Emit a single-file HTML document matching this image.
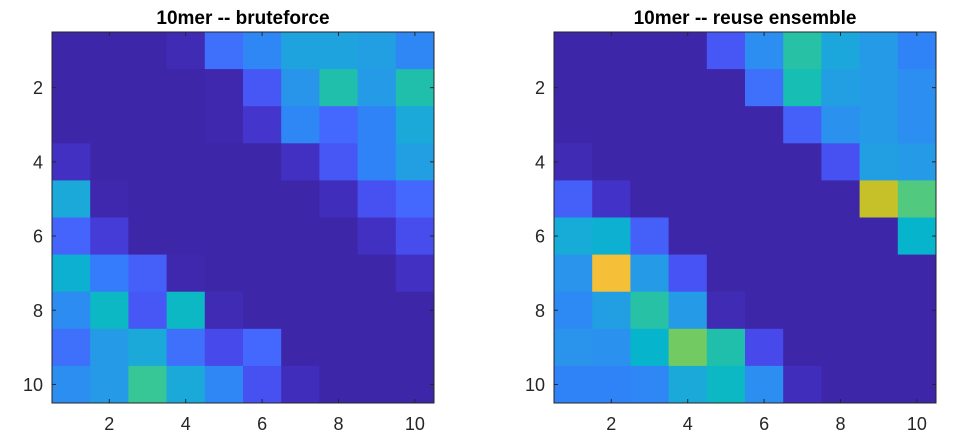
<!DOCTYPE html>
<html><head><meta charset="utf-8"><style>
html,body{margin:0;padding:0;background:#fff;}
svg{display:block;font-family:"Liberation Sans",Arial,sans-serif;}
</style></head><body>
<svg id="fig" width="956" height="440" viewBox="0 0 956 440" xmlns="http://www.w3.org/2000/svg"></svg>
<script>
const ticks = [2,4,6,8,10];
const titles = ["10mer -- bruteforce","10mer -- reuse ensemble"];
const bruteforce = [
 [0,0,0,0.02,0.22,0.3,0.42,0.42,0.4,0.3],
 [0,0,0,0,0.01,0.16,0.36,0.58,0.38,0.58],
 [0,0,0,0,0.01,0.06,0.3,0.2,0.28,0.45],
 [0.04,0,0,0,0,0,0.04,0.16,0.28,0.4],
 [0.45,0.01,0,0,0,0,0,0.03,0.14,0.2],
 [0.19,0.08,0,0,0,0,0,0,0.04,0.13],
 [0.48,0.25,0.18,0.01,0,0,0,0,0,0.04],
 [0.32,0.52,0.16,0.52,0.02,0,0,0,0,0],
 [0.22,0.38,0.45,0.22,0.12,0.2,0,0,0,0],
 [0.33,0.38,0.64,0.45,0.3,0.14,0.03,0,0,0]
];
const reuse = [
 [0,0,0,0,0.16,0.33,0.6,0.44,0.38,0.28],
 [0,0,0,0,0,0.22,0.56,0.4,0.38,0.33],
 [0,0,0,0,0,0,0.18,0.34,0.38,0.33],
 [0.02,0,0,0,0,0,0,0.14,0.4,0.38],
 [0.18,0.05,0,0,0,0,0,0,0.85,0.68],
 [0.46,0.48,0.18,0,0,0,0,0,0,0.5],
 [0.35,0.92,0.38,0.15,0,0,0,0,0,0],
 [0.31,0.4,0.6,0.38,0.02,0,0,0,0,0],
 [0.35,0.34,0.5,0.72,0.58,0.12,0,0,0,0],
 [0.28,0.28,0.3,0.45,0.52,0.33,0.03,0,0,0]
];
const stops=[[0,"3e26a8"],[0.05,"4332c8"],[0.1,"4743e3"],[0.15,"4753f4"],[0.2,"4468fd"],[0.25,"347cfb"],[0.3,"2e87f5"],[0.35,"2a93ec"],[0.4,"219fe2"],[0.45,"1ba9da"],[0.5,"06b4cc"],[0.55,"13bdb6"],[0.6,"27c1a6"],[0.65,"3bc792"],[0.7,"5fcb70"],[0.75,"8ccb4e"],[0.8,"b0c43d"],[0.85,"c6c029"],[0.9,"f0b93d"],[0.95,"fcc931"],[1,"f9fb14"]];
function cmap(v){v=Math.max(0,Math.min(1,v));for(let i=1;i<stops.length;i++){if(v<=stops[i][0]){const a=stops[i-1],b=stops[i];const t=(v-a[0])/(b[0]-a[0]);const ca=parseInt(a[1],16),cb=parseInt(b[1],16);const ch=s=>Math.round(((ca>>s)&255)*(1-t)+((cb>>s)&255)*t);return `rgb(${ch(16)},${ch(8)},${ch(0)})`;}}return "#"+stops[stops.length-1][1];}
const NS="http://www.w3.org/2000/svg";
const svg=document.getElementById('fig');
function mk(tag,attrs,parent){const e=document.createElementNS(NS,tag);for(const k in attrs)e.setAttribute(k,attrs[k]);(parent||svg).appendChild(e);return e;}
const panels=[{x0:52,x1:434,data:bruteforce,name:"bruteforce"},{x0:554,x1:936,data:reuse,name:"reuse-ensemble"}];
const y0=32,y1=403;
panels.forEach((p,pi)=>{
 const g=mk('g',{});
 
 
 const xs=c=>p.x0+(c-0.5)*(p.x1-p.x0)/10;
 const ys=r=>y0+(r-0.5)*(y1-y0)/10;
 const cw=(p.x1-p.x0)/10, chh=(y1-y0)/10;
 p.data.forEach((row,r)=>row.forEach((v,c)=>{
  const rect=mk('rect',{x:xs(c+0.5),y:ys(r+0.5),width:cw+0.5,height:chh+0.5,fill:cmap(v)},g);
  
  
 }));
 const box=mk('rect',{x:p.x0,y:y0,width:p.x1-p.x0,height:y1-y0,fill:'none',stroke:'#262626','stroke-width':1},g);
 
 
 ticks.forEach(t=>{
  const x=xs(t), y=ys(t);
  mk('line',{x1:x,x2:x,y1:y1,y2:y1-4,stroke:'#262626'},g);
  mk('line',{x1:x,x2:x,y1:y0,y2:y0+4,stroke:'#262626'},g);
  mk('line',{x1:p.x0,x2:p.x0+4,y1:y,y2:y,stroke:'#262626'},g);
  mk('line',{x1:p.x1,x2:p.x1-4,y1:y,y2:y,stroke:'#262626'},g);
  const tx=mk('text',{x:x,y:430,'font-size':18,'text-anchor':'middle',fill:'#262626'},g);
  tx.textContent=t;
  
  
  const ty=mk('text',{x:p.x0-9,y:y+6.5,'font-size':18,'text-anchor':'end',fill:'#262626'},g);
  ty.textContent=t;
  
  
 });
 const tt=mk('text',{x:(p.x0+p.x1)/2,y:24,'font-size':19,'font-weight':'bold','text-anchor':'middle',fill:'#000'},g);
 tt.textContent=titles[pi];
 
 
});
</script>
</body></html>
